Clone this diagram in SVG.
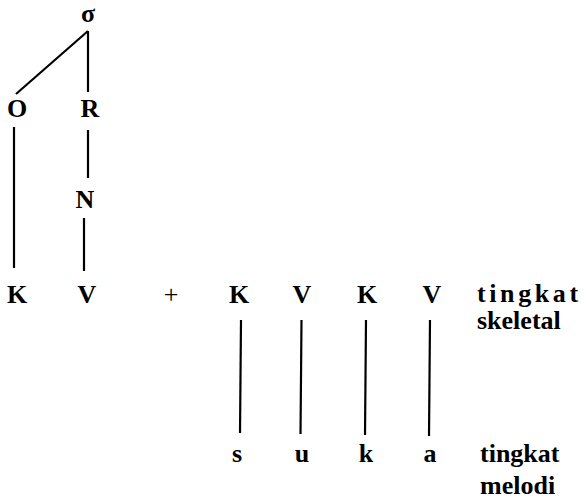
<svg xmlns="http://www.w3.org/2000/svg" width="584" height="499" viewBox="0 0 584 499">
<style>
text{font-family:"Liberation Serif","Times New Roman",serif;font-weight:bold;font-size:26px;fill:#000;text-anchor:middle}
.l{text-anchor:start}
line{stroke:#000;stroke-width:2.2;stroke-linecap:butt}
</style>
<rect width="584" height="499" fill="#fff"/>
<g id="connectors">
<line x1="88" y1="31" x2="16" y2="94"/>
<line x1="88" y1="31" x2="88" y2="92"/>
<line x1="14" y1="127" x2="14" y2="268"/>
<line x1="88" y1="130" x2="88" y2="178"/>
<line x1="84" y1="218" x2="84" y2="271"/>
<line x1="241" y1="320" x2="240" y2="433"/>
<line x1="301.5" y1="320" x2="300.5" y2="434"/>
<line x1="366" y1="320" x2="365" y2="435"/>
<line x1="430" y1="320" x2="429" y2="436"/>
</g>
<g id="sigma"><text x="88" y="22" font-size="28">σ</text></g>
<g id="O"><text x="17" y="117">O</text></g>
<g id="R"><text x="90" y="117">R</text></g>
<g id="N"><text x="85" y="208">N</text></g>
<g id="K1"><text x="17" y="303">K</text></g>
<g id="V1"><text x="87" y="303">V</text></g>
<g id="plus"><text x="171" y="303" style="font-weight:normal">+</text></g>
<g id="K2"><text x="239" y="303">K</text></g>
<g id="V2"><text x="302" y="303">V</text></g>
<g id="K3"><text x="367" y="303">K</text></g>
<g id="V3"><text x="432" y="303">V</text></g>
<g id="skeletal"><text class="l" x="477" y="302" letter-spacing="3.6">tingkat</text><text class="l" x="477" y="329">skeletal</text></g>
<g id="s"><text x="237" y="462">s</text></g>
<g id="u"><text x="302" y="462">u</text></g>
<g id="k"><text x="366" y="462">k</text></g>
<g id="a"><text x="430" y="462">a</text></g>
<g id="melodi"><text class="l" x="480" y="462">tingkat</text><text class="l" x="480" y="494">melodi</text></g>
</svg>
